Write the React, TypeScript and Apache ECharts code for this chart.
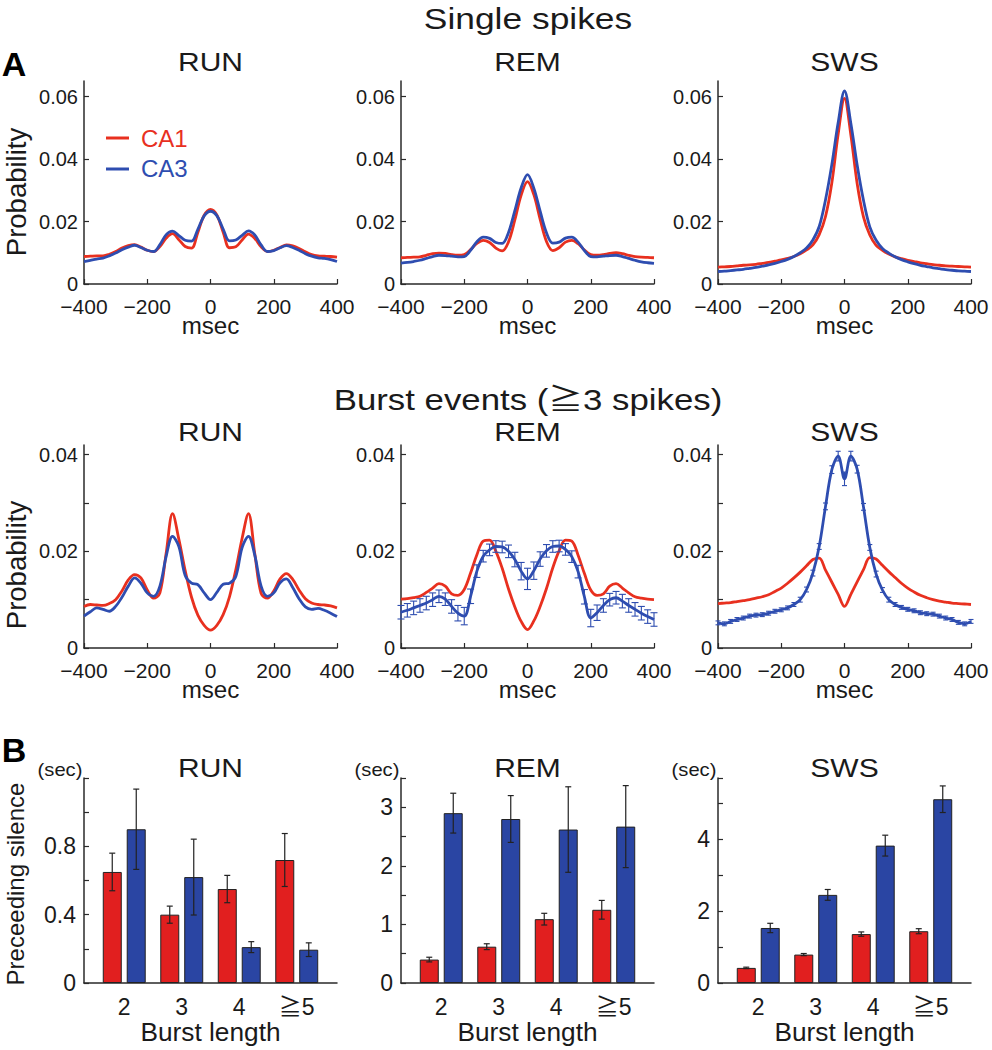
import React, { useEffect, useRef } from "react";
import * as echarts from "echarts";

const FONT = "'Liberation Sans', Arial, Helvetica, 'Noto Sans CJK JP', sans-serif";
const RED = "#E8301F";
const BLUE = "#2E4DB0";
const BAR_RED = "#E11F1F";
const BAR_BLUE = "#2A45A3";
const AXIS = "#2a2a2a";
const TEXT = "#1a1a1a";

const stateNames = ["RUN", "REM", "SWS"];

const lagMs = [
  -400, -380, -360, -340, -320, -300, -280, -260, -240, -220, -200, -180, -160, -140, -120, -100, -80, -60, -40, -20,
  0, 20, 40, 60, 80, 100, 120, 140, 160, 180, 200, 220, 240, 260, 280, 300, 320, 340, 360, 380, 400,
];

// Single spikes
const singleRunCA1 = [0.0088, 0.0089, 0.009, 0.009, 0.0095, 0.0104, 0.0115, 0.0123, 0.0126, 0.0118, 0.0108, 0.0104, 0.012, 0.0147, 0.0161, 0.0142, 0.012, 0.0115, 0.0165, 0.022, 0.0239, 0.0221, 0.0166, 0.0116, 0.0119, 0.0141, 0.016, 0.0146, 0.0119, 0.0104, 0.0108, 0.0117, 0.0125, 0.0122, 0.0114, 0.0103, 0.0094, 0.009, 0.0089, 0.0088, 0.0086];
const singleRunCA3 = [0.0072, 0.0076, 0.008, 0.0083, 0.009, 0.0099, 0.011, 0.0118, 0.0124, 0.0117, 0.0108, 0.0104, 0.0126, 0.0158, 0.0169, 0.0155, 0.014, 0.0137, 0.0175, 0.0218, 0.0233, 0.0219, 0.0176, 0.0138, 0.0141, 0.0156, 0.017, 0.0157, 0.0125, 0.0104, 0.0107, 0.0116, 0.0123, 0.0117, 0.0108, 0.0097, 0.0089, 0.0084, 0.0082, 0.0078, 0.0072];
const singleRemCA1 = [0.0084, 0.0085, 0.0086, 0.0087, 0.0092, 0.0097, 0.0099, 0.0098, 0.0094, 0.0092, 0.0094, 0.011, 0.013, 0.014, 0.0133, 0.0115, 0.0106, 0.0135, 0.0205, 0.0285, 0.0328, 0.0286, 0.0207, 0.0136, 0.0107, 0.0116, 0.0134, 0.014, 0.0129, 0.0109, 0.0094, 0.0092, 0.0094, 0.0098, 0.01, 0.0097, 0.0092, 0.0088, 0.0086, 0.0085, 0.0084];
const singleRemCA3 = [0.0067, 0.0069, 0.0072, 0.0076, 0.0082, 0.0088, 0.0092, 0.0091, 0.0089, 0.0087, 0.0088, 0.0108, 0.0135, 0.015, 0.0146, 0.0133, 0.013, 0.0165, 0.0235, 0.0308, 0.035, 0.0307, 0.0233, 0.0164, 0.0131, 0.0134, 0.0147, 0.015, 0.0134, 0.0107, 0.0088, 0.0087, 0.0089, 0.0091, 0.0092, 0.0088, 0.0082, 0.0076, 0.0071, 0.0068, 0.0066];
const singleSwsCA1 = [0.0054, 0.0055, 0.0056, 0.0058, 0.006, 0.0061, 0.0063, 0.0066, 0.0069, 0.0073, 0.0077, 0.0082, 0.0088, 0.0097, 0.0109, 0.0125, 0.0158, 0.0216, 0.0324, 0.048, 0.0594, 0.0478, 0.0322, 0.0215, 0.0157, 0.0124, 0.0108, 0.0096, 0.0087, 0.0081, 0.0076, 0.0072, 0.0068, 0.0065, 0.0062, 0.006, 0.0058, 0.0057, 0.0056, 0.0055, 0.0054];
const singleSwsCA3 = [0.004, 0.0041, 0.0043, 0.0045, 0.0047, 0.005, 0.0053, 0.0057, 0.0061, 0.0066, 0.0072, 0.0079, 0.0088, 0.01, 0.0115, 0.0141, 0.0184, 0.027, 0.0383, 0.0517, 0.0618, 0.0515, 0.0381, 0.0268, 0.0183, 0.014, 0.0114, 0.0099, 0.0087, 0.0078, 0.0071, 0.0065, 0.006, 0.0056, 0.0052, 0.0049, 0.0046, 0.0044, 0.0042, 0.0041, 0.004];

// Burst events (>=3 spikes)
const burstRunCA1 = [0.0086, 0.009, 0.0089, 0.0088, 0.0092, 0.01, 0.0118, 0.0141, 0.0152, 0.0145, 0.012, 0.0103, 0.0114, 0.0197, 0.0278, 0.0225, 0.016, 0.0105, 0.0068, 0.0047, 0.0037, 0.0047, 0.0069, 0.0106, 0.0162, 0.0227, 0.0278, 0.0195, 0.0113, 0.0103, 0.0118, 0.0143, 0.0154, 0.0142, 0.012, 0.0102, 0.0093, 0.009, 0.0089, 0.0087, 0.0083];
const burstRunCA3 = [0.0066, 0.0075, 0.0083, 0.008, 0.0076, 0.0086, 0.0105, 0.0128, 0.0145, 0.0134, 0.0114, 0.0107, 0.0128, 0.019, 0.0231, 0.021, 0.015, 0.0134, 0.0131, 0.0114, 0.01, 0.0115, 0.0132, 0.0134, 0.0148, 0.0208, 0.0231, 0.0192, 0.0128, 0.0107, 0.0114, 0.0135, 0.0143, 0.0125, 0.0102, 0.0085, 0.008, 0.0082, 0.0078, 0.0072, 0.0065];
const burstRemCA1 = [0.0101, 0.0102, 0.0104, 0.0107, 0.0115, 0.0124, 0.0133, 0.0128, 0.0112, 0.0109, 0.0121, 0.0155, 0.0193, 0.0221, 0.0223, 0.02, 0.0165, 0.0122, 0.0085, 0.0055, 0.0038, 0.0056, 0.0086, 0.0123, 0.0166, 0.0201, 0.0223, 0.0221, 0.0192, 0.0154, 0.012, 0.0109, 0.0112, 0.0128, 0.0133, 0.0124, 0.0114, 0.0106, 0.0103, 0.0101, 0.01];
const burstRemCA3 = [0.0074, 0.0078, 0.0083, 0.0088, 0.0093, 0.01, 0.0107, 0.0101, 0.0086, 0.0072, 0.0066, 0.0107, 0.0159, 0.019, 0.0203, 0.021, 0.0209, 0.02, 0.0183, 0.0159, 0.0143, 0.016, 0.0184, 0.0201, 0.021, 0.0211, 0.0204, 0.0189, 0.0158, 0.0106, 0.0062, 0.0073, 0.0088, 0.01, 0.0104, 0.0097, 0.0088, 0.008, 0.0072, 0.0065, 0.0059];
const burstRemCA3Err = [0.0014, 0.0014, 0.0014, 0.0014, 0.0014, 0.0014, 0.0013, 0.0013, 0.0014, 0.0016, 0.0018, 0.0015, 0.0013, 0.0012, 0.0012, 0.0012, 0.0012, 0.0013, 0.0015, 0.0018, 0.0022, 0.0018, 0.0015, 0.0013, 0.0012, 0.0012, 0.0012, 0.0012, 0.0013, 0.0015, 0.0018, 0.0016, 0.0014, 0.0013, 0.0013, 0.0014, 0.0014, 0.0014, 0.0014, 0.0014, 0.0014];
const burstSwsCA1 = [0.0092, 0.0093, 0.0094, 0.0096, 0.0098, 0.01, 0.0103, 0.0106, 0.011, 0.0117, 0.0124, 0.0134, 0.0145, 0.0157, 0.017, 0.0183, 0.0186, 0.0161, 0.0136, 0.0111, 0.0086, 0.0111, 0.0137, 0.0162, 0.0187, 0.0184, 0.0171, 0.0158, 0.0146, 0.0134, 0.0124, 0.0116, 0.0109, 0.0104, 0.01, 0.0097, 0.0095, 0.0093, 0.0092, 0.0091, 0.009];
const burstSwsCA3 = [0.0052, 0.005, 0.0055, 0.0059, 0.0062, 0.0066, 0.0068, 0.0069, 0.0072, 0.0076, 0.0079, 0.0083, 0.009, 0.01, 0.0121, 0.0155, 0.021, 0.0293, 0.0369, 0.0397, 0.035, 0.0397, 0.037, 0.0292, 0.0208, 0.0153, 0.012, 0.01, 0.009, 0.0084, 0.008, 0.0077, 0.0073, 0.0071, 0.007, 0.0066, 0.0062, 0.0059, 0.0053, 0.005, 0.0055];
const burstSwsCA3Err = [0.0004, 0.0004, 0.0004, 0.0004, 0.0004, 0.0004, 0.0004, 0.0004, 0.0004, 0.0004, 0.0004, 0.0004, 0.0004, 0.0005, 0.0005, 0.0006, 0.0006, 0.0007, 0.0008, 0.001, 0.0014, 0.001, 0.0008, 0.0007, 0.0006, 0.0006, 0.0005, 0.0005, 0.0004, 0.0004, 0.0004, 0.0004, 0.0004, 0.0004, 0.0004, 0.0004, 0.0004, 0.0004, 0.0004, 0.0004, 0.0004];

// Preceding silence (sec) by burst length
const burstLength = [2, 3, 4, 5];
const burstLengthLabels = ["2", "3", "4", "≧5"];
const runSilenceCA1 = [0.65, 0.4, 0.55, 0.72];
const runSilenceCA1Err = [0.11, 0.05, 0.08, 0.155];
const runSilenceCA3 = [0.9, 0.62, 0.21, 0.195];
const runSilenceCA3Err = [0.235, 0.222, 0.032, 0.04];
const remSilenceCA1 = [0.4, 0.62, 1.09, 1.25];
const remSilenceCA1Err = [0.04, 0.05, 0.1, 0.16];
const remSilenceCA3 = [2.9, 2.8, 2.62, 2.67];
const remSilenceCA3Err = [0.34, 0.4, 0.73, 0.7];
const swsSilenceCA1 = [0.42, 0.79, 1.36, 1.44];
const swsSilenceCA1Err = [0.02, 0.03, 0.06, 0.07];
const swsSilenceCA3 = [1.53, 2.45, 3.82, 5.11];
const swsSilenceCA3Err = [0.13, 0.15, 0.29, 0.37];

// Layout
const colLeft = [84, 401, 718];
const plotW = 253;
const lineTop = [81, 445];
const lineH = 203;
const barTop = 778;
const barH = 205;

const pair = (xs: number[], ys: number[]) => xs.map((x, i) => [x, ys[i]]);
const triple = (xs: number[], ys: number[], es: number[]) => xs.map((x, i) => [x, ys[i], es[i]]);
const near = (v: number, list: number[]) => list.some((l) => Math.abs(l - v) < 1e-9);

function lineErrRender(color: string, cap: number) {
  return (params: any, api: any) => {
    const x = api.value(0);
    const m = api.value(1);
    const e = api.value(2);
    const t = api.coord([x, m + e]);
    const b = api.coord([x, m - e]);
    const style = { stroke: color, lineWidth: 1.1 };
    return {
      type: "group",
      children: [
        { type: "line", shape: { x1: t[0], y1: t[1], x2: b[0], y2: b[1] }, style },
        { type: "line", shape: { x1: t[0] - cap, y1: t[1], x2: t[0] + cap, y2: t[1] }, style },
        { type: "line", shape: { x1: b[0] - cap, y1: b[1], x2: b[0] + cap, y2: b[1] }, style },
      ],
    };
  };
}

function barErrRender(offset: number) {
  return (params: any, api: any) => {
    const x = api.value(0);
    const m = api.value(1);
    const e = api.value(2);
    const t = api.coord([x, m + e]);
    const b = api.coord([x, m - e]);
    const cx = t[0] + offset;
    const cap = 3;
    const style = { stroke: "#222", lineWidth: 1.2 };
    return {
      type: "group",
      children: [
        { type: "line", shape: { x1: cx, y1: t[1], x2: cx, y2: b[1] }, style },
        { type: "line", shape: { x1: cx - cap, y1: t[1], x2: cx + cap, y2: t[1] }, style },
        { type: "line", shape: { x1: cx - cap, y1: b[1], x2: cx + cap, y2: b[1] }, style },
      ],
    };
  };
}

function buildOption() {
  const grid: any[] = [];
  const xAxis: any[] = [];
  const yAxis: any[] = [];
  const series: any[] = [];

  const axisLine = { onZero: false, lineStyle: { color: AXIS, width: 1.5 } };
  const axisTick = { inside: true, length: 5, lineStyle: { color: AXIS, width: 1.2 } };
  const labelStyle = { fontFamily: FONT, fontSize: 20, color: TEXT };

  const lineRows = [
    {
      ymax: 0.065,
      interval: 0.02,
      labels: [0, 0.02, 0.04, 0.06],
      panels: [
        [singleRunCA1, singleRunCA3],
        [singleRemCA1, singleRemCA3],
        [singleSwsCA1, singleSwsCA3],
      ],
    },
    {
      ymax: 0.042,
      interval: 0.01,
      labels: [0, 0.02, 0.04],
      panels: [
        [burstRunCA1, burstRunCA3],
        [burstRemCA1, burstRemCA3],
        [burstSwsCA1, burstSwsCA3],
      ],
    },
  ];

  lineRows.forEach((row, r) => {
    row.panels.forEach((p, c) => {
      const gi = grid.length;
      grid.push({ left: colLeft[c], top: lineTop[r], width: plotW, height: lineH });
      xAxis.push({
        type: "value",
        gridIndex: gi,
        min: -400,
        max: 400,
        interval: 200,
        axisLine,
        axisTick,
        splitLine: { show: false },
        axisLabel: {
          ...labelStyle,
          fontSize: 21,
          margin: 12,
          formatter: (v: number) => (v < 0 ? "\u2212" + Math.abs(v) : String(v)),
        },
      });
      yAxis.push({
        type: "value",
        gridIndex: gi,
        min: 0,
        max: row.ymax,
        interval: row.interval,
        axisLine: { show: true, ...axisLine },
        axisTick,
        splitLine: { show: false },
        axisLabel: {
          ...labelStyle,
          margin: 6,
          showMaxLabel: false,
          formatter: (v: number) => (near(v, row.labels) ? (v === 0 ? "0" : v.toFixed(2)) : ""),
        },
      });
      const common = {
        type: "line",
        xAxisIndex: gi,
        yAxisIndex: gi,
        showSymbol: false,
        smooth: 0.35,
        silent: true,
      };
      series.push({ ...common, name: "CA1", data: pair(lagMs, p[0]), lineStyle: { color: RED, width: 2.8 }, itemStyle: { color: RED }, z: 3 });
      if (r === 1 && c === 1) {
        series.push({
          type: "custom",
          name: "CA3 sem",
          xAxisIndex: gi,
          yAxisIndex: gi,
          data: triple(lagMs, burstRemCA3, burstRemCA3Err),
          encode: { x: 0, y: 1 },
          renderItem: lineErrRender(BLUE, 3.5),
          silent: true,
          z: 4,
        });
      }
      if (r === 1 && c === 2) {
        series.push({
          type: "custom",
          name: "CA3 sem",
          xAxisIndex: gi,
          yAxisIndex: gi,
          data: triple(lagMs, burstSwsCA3, burstSwsCA3Err),
          encode: { x: 0, y: 1 },
          renderItem: lineErrRender(BLUE, 2.5),
          silent: true,
          z: 4,
        });
      }
      series.push({ ...common, name: "CA3", data: pair(lagMs, p[1]), lineStyle: { color: BLUE, width: 2.8 }, itemStyle: { color: BLUE }, z: 5 });
    });
  });

  const barPanels = [
    { max: 1.2, interval: 0.2, labels: [0, 0.4, 0.8], dec: 1, ca1: runSilenceCA1, ca1e: runSilenceCA1Err, ca3: runSilenceCA3, ca3e: runSilenceCA3Err },
    { max: 3.5, interval: 0.5, labels: [0, 1, 2, 3], dec: 0, ca1: remSilenceCA1, ca1e: remSilenceCA1Err, ca3: remSilenceCA3, ca3e: remSilenceCA3Err },
    { max: 5.7, interval: 1, labels: [0, 2, 4], dec: 0, ca1: swsSilenceCA1, ca1e: swsSilenceCA1Err, ca3: swsSilenceCA3, ca3e: swsSilenceCA3Err },
  ];

  barPanels.forEach((b, c) => {
    const gi = grid.length;
    grid.push({ left: colLeft[c], top: barTop, width: plotW, height: barH });
    xAxis.push({
      type: "value",
      gridIndex: gi,
      min: 1.3,
      max: 5.7,
      axisLine,
      axisTick: { show: false },
      splitLine: { show: false },
      axisLabel: {
        ...labelStyle,
        fontSize: 23,
        margin: 12,
        customValues: burstLength,
        formatter: (v: number) => {
          const i = burstLength.findIndex((x) => Math.abs(x - v) < 1e-9);
          return i >= 0 ? burstLengthLabels[i] : "";
        },
      },
    });
    yAxis.push({
      type: "value",
      gridIndex: gi,
      min: 0,
      max: b.max,
      interval: b.interval,
      axisLine: { show: true, ...axisLine },
      axisTick,
      splitLine: { show: false },
      axisLabel: {
        ...labelStyle,
        fontSize: 23,
        margin: 8,
        formatter: (v: number) => (near(v, b.labels) ? (v === 0 ? "0" : v.toFixed(b.dec)) : ""),
      },
    });
    const barCommon = {
      type: "bar",
      xAxisIndex: gi,
      yAxisIndex: gi,
      barWidth: 19,
      barGap: "26%",
      silent: true,
    };
    series.push({ ...barCommon, name: "CA1", data: pair(burstLength, b.ca1), itemStyle: { color: BAR_RED, borderColor: "#222", borderWidth: 1 } });
    series.push({ ...barCommon, name: "CA3", data: pair(burstLength, b.ca3), itemStyle: { color: BAR_BLUE, borderColor: "#222", borderWidth: 1 } });
    series.push({
      type: "custom",
      name: "CA1 sem",
      xAxisIndex: gi,
      yAxisIndex: gi,
      data: triple(burstLength, b.ca1, b.ca1e),
      encode: { x: 0, y: 1 },
      renderItem: barErrRender(-12),
      silent: true,
      z: 10,
    });
    series.push({
      type: "custom",
      name: "CA3 sem",
      xAxisIndex: gi,
      yAxisIndex: gi,
      data: triple(burstLength, b.ca3, b.ca3e),
      encode: { x: 0, y: 1 },
      renderItem: barErrRender(12),
      silent: true,
      z: 10,
    });
  });

  const txt = (text: string, x: number, y: number, size: number, extra: any = {}, props: any = {}) => ({
    type: "text",
    x,
    y,
    silent: true,
    ...props,
    style: {
      text,
      fontFamily: FONT,
      fontSize: size,
      fill: TEXT,
      align: "center",
      verticalAlign: "middle",
      ...extra,
    },
  });

  const centers = colLeft.map((l) => l + plotW / 2);
  const graphic: any[] = [
    txt("Single spikes", 528, 19, 29, {}, { scaleX: 1.22 }),
    txt("Burst events (≧3 spikes)", 528, 400, 29, {}, { scaleX: 1.2 }),
    txt("A", 14, 64, 34, { fontWeight: "bold", fill: "#000" }),
    txt("B", 14, 750, 34, { fontWeight: "bold", fill: "#000" }),
    txt("Probability", 16, 192, 27.5, {}, { rotation: Math.PI / 2 }),
    txt("Probability", 16, 565, 27.5, {}, { rotation: Math.PI / 2 }),
    txt("Preceeding silence", 15, 884, 24, {}, { rotation: Math.PI / 2 }),
  ];
  stateNames.forEach((s, c) => {
    graphic.push(txt(s, centers[c], 62, 25, {}, { scaleX: 1.2 }));
    graphic.push(txt(s, centers[c], 432, 25, {}, { scaleX: 1.2 }));
    graphic.push(txt(s, centers[c], 768, 25, {}, { scaleX: 1.2 }));
    graphic.push(txt("msec", centers[c], 326, 23, {}, { scaleX: 1.05 }));
    graphic.push(txt("msec", centers[c], 690, 23, {}, { scaleX: 1.05 }));
    graphic.push(txt("Burst length", centers[c], 1032, 25, {}, { scaleX: 1.05 }));
    graphic.push(txt("(sec)", colLeft[c] - 24, 770, 18, {}, { scaleX: 1.12 }));
  });

  return {
    animation: false,
    backgroundColor: "#ffffff",
    grid,
    xAxis,
    yAxis,
    series,
    legend: {
      show: true,
      data: [
        { name: "CA1", textStyle: { color: RED } },
        { name: "CA3", textStyle: { color: BLUE } },
      ],
      orient: "vertical",
      left: 101,
      top: 121,
      icon: "rect",
      itemWidth: 23,
      itemHeight: 3,
      itemGap: 7,
      selectedMode: false,
      textStyle: { fontFamily: FONT, fontSize: 24, padding: [0, 0, 0, 7] },
    },
    graphic,
  };
}

export default function App() {
  const ref = useRef<HTMLDivElement>(null);
  useEffect(() => {
    if (!ref.current) return;
    const chart = echarts.init(ref.current, undefined, { renderer: "svg" });
    chart.setOption(buildOption() as any);
    return () => chart.dispose();
  }, []);
  return (
    <div
      ref={ref}
      style={{ position: "absolute", left: 0, top: 0, width: 992, height: 1050, background: "#fff" }}
    />
  );
}
